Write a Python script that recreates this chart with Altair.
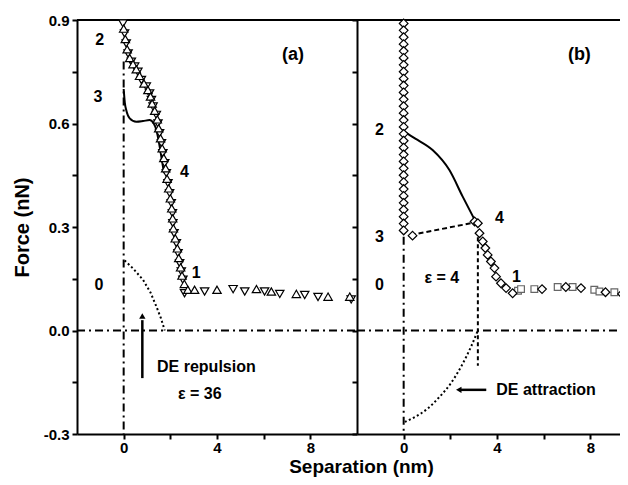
import altair as alt
import pandas as pd

FONT = "Liberation Sans"
YDOM = [-0.3, 0.9]

# ---------------- panel (a) ----------------
a_down_x = [-0.03, 0.04, 0.11, 0.19, 0.33, 0.47, 0.61, 0.76, 0.97, 1.11, 1.19, 1.26, 1.40, 1.47, 1.54,
            1.62, 1.68, 1.76, 1.83, 1.90, 1.97, 2.04, 2.09, 2.11, 2.16, 2.26, 2.33, 2.40, 2.47, 2.54, 2.61,
            3.47, 4.69, 5.19, 6.04, 6.69, 7.76, 8.33, 9.75]
a_down_y = [0.890, 0.861, 0.832, 0.803, 0.779, 0.765, 0.750, 0.726, 0.707, 0.687, 0.668, 0.649, 0.625, 0.600, 0.572,
            0.543, 0.514, 0.485, 0.456, 0.427, 0.398, 0.369, 0.340, 0.311, 0.282, 0.253, 0.224, 0.195, 0.171, 0.147, 0.108,
            0.113, 0.120, 0.113, 0.113, 0.106, 0.103, 0.097, 0.090]
a_up_x = [0.00, 0.07, 0.15, 0.26, 0.40, 0.54, 0.68, 0.87, 1.04, 1.15, 1.22, 1.33, 1.44, 1.50, 1.58, 1.65,
          1.72, 1.80, 1.86, 1.93, 2.00, 2.06, 2.10, 2.13, 2.21, 2.30, 2.36, 2.44, 2.50, 2.60, 2.75,
          3.04, 4.00, 5.69, 6.33, 7.40, 8.76, 9.69]
a_up_y = [0.875, 0.845, 0.815, 0.790, 0.772, 0.757, 0.738, 0.716, 0.697, 0.678, 0.658, 0.637, 0.612, 0.586, 0.557, 0.528,
          0.500, 0.470, 0.440, 0.412, 0.383, 0.354, 0.325, 0.296, 0.267, 0.238, 0.210, 0.183, 0.159, 0.135, 0.118,
          0.118, 0.118, 0.120, 0.113, 0.106, 0.098, 0.098]
a_solid_x = [0.00, 0.05, 0.11, 0.26, 0.54, 0.83, 1.11, 1.29, 1.40, 1.50, 1.60, 1.73]
a_solid_y = [0.700, 0.660, 0.639, 0.615, 0.605, 0.607, 0.610, 0.600, 0.581, 0.550, 0.510, 0.456]
a_dot_x = [0.04, 0.40, 0.83, 1.15, 1.40, 1.60, 1.76]
a_dot_y = [0.203, 0.180, 0.147, 0.110, 0.070, 0.035, 0.000]
a_labels = ["2", "3", "4", "1", "0"]
a_label_x = [-1.03, -1.10, 2.61, 3.11, -1.06]
a_label_y = [0.842, 0.678, 0.460, 0.166, 0.132]

# ---------------- panel (b) ----------------
b_col_y = [0.89, 0.87, 0.85, 0.83, 0.81, 0.79, 0.77, 0.75, 0.73, 0.71, 0.69, 0.67, 0.65, 0.63, 0.61, 0.59,
           0.57, 0.55, 0.53, 0.51, 0.49, 0.47, 0.45, 0.43, 0.41, 0.39, 0.37, 0.35, 0.33, 0.31, 0.29]
b_dia_x = [0.38, 3.04, 3.18, 3.25, 3.39, 3.50, 3.60, 3.74, 3.89, 3.96, 4.17, 4.39, 4.67,
           5.93, 6.95, 7.60, 8.65, 9.36]
b_dia_y = [0.275, 0.316, 0.311, 0.282, 0.258, 0.239, 0.219, 0.200, 0.181, 0.156, 0.137, 0.123, 0.108,
           0.120, 0.126, 0.123, 0.111, 0.106]
b_sq_x = [4.90, 5.03, 5.60, 6.60, 7.24, 8.17, 8.39, 9.03]
b_sq_y = [0.115, 0.120, 0.120, 0.126, 0.126, 0.118, 0.113, 0.111]
b_solid_x = [0.03, 0.50, 1.24, 1.96, 2.53, 3.05]
b_solid_y = [0.576, 0.556, 0.523, 0.465, 0.388, 0.320]
b_dash_x = [0.30, 2.90]
b_dash_y = [0.277, 0.311]
b_dot_x = [0.05, 0.50, 1.00, 1.50, 2.00, 2.50, 2.90, 3.18]
b_dot_y = [-0.265, -0.250, -0.228, -0.195, -0.155, -0.100, -0.045, 0.000]
b_labels = ["2", "3", "4", "1", "0"]
b_label_x = [-1.04, -1.04, 4.10, 4.83, -1.04]
b_label_y = [0.581, 0.272, 0.325, 0.156, 0.132]

x_ticks = [0, 2, 4, 6, 8]
y_ticks = [-0.3, -0.15, 0, 0.15, 0.3, 0.45, 0.6, 0.75, 0.9]

PLOT_H = 414
W_A = 280
W_B = 263
B_MAX = -2 + W_B * 12 / W_A
PAD_L, PAD_T = 69, 12
SVG_W, SVG_H = 612, 468


def df(**cols):
    return pd.DataFrame(cols)


def make_panel(xdom, xaxis, yaxis, layers_spec, width):
    xs = alt.Scale(domain=xdom, nice=False, zero=False)
    ys = alt.Scale(domain=YDOM, nice=False, zero=False)
    X = alt.X("x:Q", scale=xs, axis=xaxis)
    Y = alt.Y("y:Q", scale=ys, axis=yaxis)
    layers = []
    for data, mark, extra in layers_spec:
        enc = dict(x=X, y=Y)
        enc.update(extra)
        layers.append(mark(alt.Chart(data)).encode(**enc))
    return alt.layer(*layers).properties(width=width, height=PLOT_H)


dashdot = [8, 4, 2, 4]
common_axis = dict(grid=False, domain=True, domainColor="black", domainWidth=2, tickColor="black",
                   tickWidth=2, tickSize=5, labelFont=FONT, labelFontSize=15, labelFontWeight="bold",
                   labelColor="black")
x_label_expr = "datum.value % 4 == 0 ? format(datum.value, 'd') : ''"
y_label_expr = ("abs(round(datum.value * 100)) % 30 == 0 ? "
                "(datum.value < 0 ? '-' + format(-datum.value, '.1f') : format(datum.value, '.1f')) : ''")

ax_a_x = alt.Axis(values=x_ticks, labelExpr=x_label_expr, labelPadding=1, title="Separation (nm)",
                  titleX=284, titleY=38, titleAlign="center", titleBaseline="alphabetic",
                  titleFont=FONT, titleFontSize=19, titleFontWeight="bold", titleColor="black", **common_axis)
ax_a_y = alt.Axis(values=y_ticks, labelPadding=3, labelExpr=y_label_expr,
                  title="Force (nN)", titleX=-55, titleY=PLOT_H / 2, titleAngle=-90, titleAlign="center",
                  titleBaseline="middle", titleFont=FONT, titleFontSize=20, titleFontWeight="bold",
                  titleColor="black", **common_axis)
ax_b_x = alt.Axis(values=x_ticks, labelExpr=x_label_expr, labelPadding=1, title=None, **common_axis)
ax_b_y = alt.Axis(values=y_ticks, labels=False, title=None, **common_axis)


def txt(size, align="center"):
    return lambda c: c.mark_text(font=FONT, fontSize=size, fontWeight="bold", align=align,
                                 baseline="middle", color="black")


def pts(shape, size, stroke="black"):
    return lambda c: c.mark_point(shape=shape, size=size, filled=True, fill="white", stroke=stroke,
                                  strokeWidth=1.2, opacity=1)


TXT = alt.Text("t:N")

panel_a = make_panel([-2, 10], ax_a_x, ax_a_y, [
    (df(x=[-2], x2=[10], y=[0.9]), lambda c: c.mark_rule(color="black", strokeWidth=2), dict(x2="x2:Q")),
    (df(x=[-2], x2=[10], y=[0.0]), lambda c: c.mark_rule(color="black", strokeWidth=2, strokeDash=dashdot), dict(x2="x2:Q")),
    (df(x=[0], y=[0.78], y2=[-0.3]), lambda c: c.mark_rule(color="black", strokeWidth=2, strokeDash=dashdot), dict(y2="y2:Q")),
    (df(x=a_dot_x, y=a_dot_y), lambda c: c.mark_line(color="black", strokeWidth=2, strokeDash=[2, 2.5]), {}),
    (df(x=a_solid_x, y=a_solid_y), lambda c: c.mark_line(color="black", strokeWidth=2, interpolate="monotone"), {}),
    (df(x=a_down_x, y=a_down_y), pts("triangle-down", 70), {}),
    (df(x=a_up_x, y=a_up_y), pts("triangle-up", 70), {}),
    (df(x=[0.80], y=[-0.138], y2=[0.03]), lambda c: c.mark_rule(color="black", strokeWidth=2.5), dict(y2="y2:Q")),
    (df(x=[0.80], y=[0.042]), lambda c: c.mark_point(shape="triangle-up", size=40, filled=True, color="black", opacity=1), {}),
    (df(x=a_label_x, y=a_label_y, t=a_labels), txt(16), dict(text=TXT)),
    (df(x=[7.26], y=[0.80], t=["(a)"]), txt(18), dict(text=TXT)),
    (df(x=[1.43], y=[-0.107], t=["DE repulsion"]), txt(16, "left"), dict(text=TXT)),
    (df(x=[2.33], y=[-0.184], t=["ε = 36"]), txt(16, "left"), dict(text=TXT)),
], W_A)

panel_b = make_panel([-2, B_MAX], ax_b_x, ax_b_y, [
    (df(x=[-2], x2=[B_MAX], y=[0.9]), lambda c: c.mark_rule(color="black", strokeWidth=2), dict(x2="x2:Q")),
    (df(x=[-2], x2=[B_MAX], y=[0.0]), lambda c: c.mark_rule(color="black", strokeWidth=2, strokeDash=dashdot), dict(x2="x2:Q")),
    (df(x=[0], y=[0.272], y2=[-0.3]), lambda c: c.mark_rule(color="black", strokeWidth=2, strokeDash=dashdot), dict(y2="y2:Q")),
    (df(x=[3.18], y=[0.27], y2=[-0.102]), lambda c: c.mark_rule(color="black", strokeWidth=2, strokeDash=[4, 3]), dict(y2="y2:Q")),
    (df(x=b_dot_x, y=b_dot_y), lambda c: c.mark_line(color="black", strokeWidth=2, strokeDash=[2, 2.5], interpolate="monotone"), {}),
    (df(x=b_solid_x, y=b_solid_y), lambda c: c.mark_line(color="black", strokeWidth=2, interpolate="monotone"), {}),
    (df(x=b_dash_x, y=b_dash_y), lambda c: c.mark_line(color="black", strokeWidth=2, strokeDash=[5, 3]), {}),
    (df(x=[0] * len(b_col_y), y=b_col_y), pts("diamond", 75), {}),
    (df(x=b_sq_x, y=b_sq_y), pts("square", 45, "#666666"), {}),
    (df(x=b_dia_x, y=b_dia_y), pts("diamond", 75), {}),
    (df(x=[2.42], x2=[3.54], y=[-0.172]), lambda c: c.mark_rule(color="black", strokeWidth=2.5), dict(x2="x2:Q")),
    (df(x=[2.36], y=[-0.172]), lambda c: c.mark_point(shape="triangle-left", size=40, filled=True, color="black", opacity=1), {}),
    (df(x=b_label_x, y=b_label_y, t=b_labels), txt(16), dict(text=TXT)),
    (df(x=[7.53], y=[0.80], t=["(b)"]), txt(18), dict(text=TXT)),
    (df(x=[3.97], y=[-0.172], t=["DE attraction"]), txt(16, "left"), dict(text=TXT)),
    (df(x=[0.89], y=[0.152], t=["ε = 4"]), txt(16, "left"), dict(text=TXT)),
], W_B)

chart = alt.hconcat(panel_a, panel_b, spacing=0, bounds="flush").properties(
    autosize=alt.AutoSizeParams(type="none"),
    padding={"left": PAD_L, "top": PAD_T, "right": SVG_W - PAD_L, "bottom": SVG_H - PAD_T},
    background="white",
).configure_view(stroke="transparent")

chart.save("out.html", embed_options={"renderer": "svg", "actions": False})
